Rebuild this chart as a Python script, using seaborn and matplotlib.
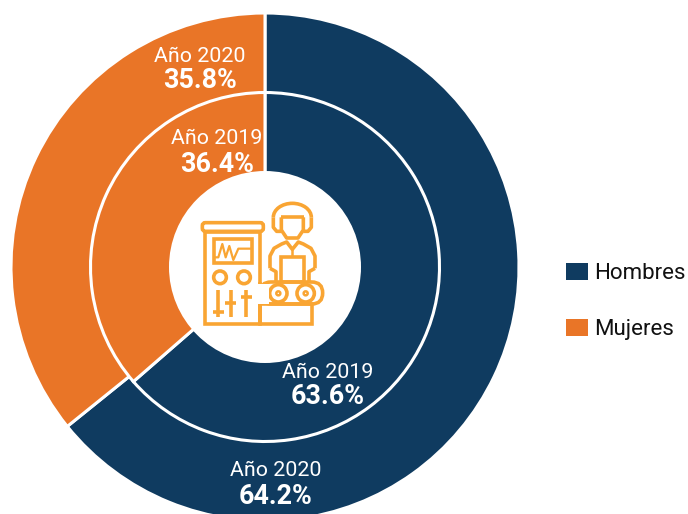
import matplotlib
matplotlib.use("Agg")
import matplotlib.pyplot as plt
from matplotlib.patches import Circle, Rectangle, FancyBboxPatch, Arc, Patch
import seaborn as sns

# data
groups = ["Hombres", "Mujeres"]
values_2020 = [64.2, 35.8]
values_2019 = [63.6, 36.4]
year_labels = ["Año 2020", "Año 2019"]
colors = ["#0F3B60", "#E97527"]
icon_color = "#F9A533"

sns.set_theme(style="white")
plt.rcParams["font.family"] = ["Roboto", "DejaVu Sans"]

fig = plt.figure(figsize=(6.88, 5.14), dpi=100)
ax = fig.add_axes([0, 0, 1, 1])
ax.set_xlim(0, 688)
ax.set_ylim(514, 0)
ax.axis("off")

# === rings (y axis is inverted, so -90 counterclockwise reads clockwise from the top) ===
cx, cy = 265, 267
wedge_style = {"edgecolor": "white", "linewidth": 2.2}
ax.pie(values_2020, colors=colors, startangle=-90, counterclock=True, center=(cx, cy),
       radius=254, frame=False, wedgeprops=wedge_style)
ax.pie(values_2019, colors=colors, startangle=-90, counterclock=True, center=(cx, cy),
       radius=174.5, frame=False, wedgeprops=wedge_style)
ax.add_patch(Circle((cx, cy), 96, facecolor="white", edgecolor="none", zorder=3))
ax.set_xlim(0, 688)
ax.set_ylim(514, 0)
ax.set_aspect("equal")


# === labels ===
def ring_label(x, y, year, value):
    ax.text(x, y, year, color="white", fontsize=15.4, ha="center", va="center", zorder=5)
    ax.text(x, y + 25, f"{value}%", color="white", fontsize=19.4, fontweight="bold",
            ha="center", va="center", zorder=5)


ring_label(200, 56, year_labels[0], values_2020[1])
ring_label(217, 139, year_labels[1], values_2019[1])
ring_label(328, 372, year_labels[1], values_2019[0])
ring_label(276, 471, year_labels[0], values_2020[0])


# === icon, from a crop at (170, 180) scaled 3x ===
def px(x, y):
    return 170 + x / 3, 180 + y / 3


def line(points, lw=2.6):
    xs, ys = zip(*[px(*p) for p in points])
    ax.plot(xs, ys, color=icon_color, lw=lw, zorder=6, solid_capstyle="butt", solid_joinstyle="round")


def box(x0, y0, x1, y1, lw=2.6, pad=0.0):
    x, y = px(x0, y0)
    w, h = (x1 - x0) / 3, (y1 - y0) / 3
    if pad:
        patch = FancyBboxPatch((x, y), w, h, boxstyle=f"round,pad=0,rounding_size={pad}",
                               fc="none", ec=icon_color, lw=lw, zorder=6)
    else:
        patch = Rectangle((x, y), w, h, fc="none", ec=icon_color, lw=lw, zorder=6)
    ax.add_patch(patch)


def ring(x, y, r, lw=2.6):
    ax.add_patch(Circle(px(x, y), r / 3, fc="white", ec=icon_color, lw=lw, zorder=6))


# cabinet
box(105, 155, 270, 432)
box(97, 128, 280, 154, pad=3)
box(131, 176, 245, 250)
line([(131, 232), (145, 232), (157, 192), (167, 232), (178, 198), (190, 240), (205, 206), (245, 206)], lw=1.6)
ring(150, 292, 19)
ring(222, 292, 19)
line([(145, 330), (145, 410)])
line([(130, 395), (161, 395)])
line([(182, 330), (182, 410)])
line([(165, 368), (198, 368)])
line([(228, 330), (228, 410)])
line([(212, 350), (246, 350)])

# conveyor
box(270, 372, 425, 432)
box(270, 306, 458, 372, pad=11)
ax.add_patch(Rectangle(px(262, 312), 12, 54 / 3 + 2, fc="white", ec="none", zorder=6.5))
line([(270, 306), (270, 432)])
ring(325, 340, 26)
ring(325, 340, 6, lw=1.8)
ring(407, 340, 26)
ring(407, 340, 6, lw=1.8)

# worker
ax.add_patch(Arc(px(367, 112), 114 / 3, 84 / 3, theta1=180, theta2=360, ec=icon_color, lw=2.6, zorder=6))
line([(310, 112), (310, 142), (320, 154), (334, 154)])
line([(424, 112), (424, 142), (414, 154), (400, 154)])
line([(332, 112), (402, 112)])
line([(334, 112), (334, 150), (350, 174), (384, 174), (400, 150), (400, 112)])
line([(300, 265), (300, 228), (312, 205), (335, 192), (350, 186), (367, 208), (385, 186), (400, 192), (423, 205), (435, 228), (435, 265)])
line([(300, 265), (318, 275), (318, 305)])
line([(435, 265), (417, 275), (417, 305)])
box(332, 232, 403, 306)
line([(367, 208), (367, 232)], lw=1.8)

# === legend ===
handles = [Patch(facecolor=c, edgecolor="none", label=g) for c, g in zip(colors, groups)]
ax.legend(handles=handles, loc="upper left", bbox_to_anchor=(566 / 688, 1 - 262.5 / 514), frameon=False,
          fontsize=16, handlelength=1.0, handleheight=0.86, handletextpad=0.28, labelspacing=1.55,
          borderpad=0, borderaxespad=0, labelcolor="#111111")

plt.savefig("out.png", dpi=100)
